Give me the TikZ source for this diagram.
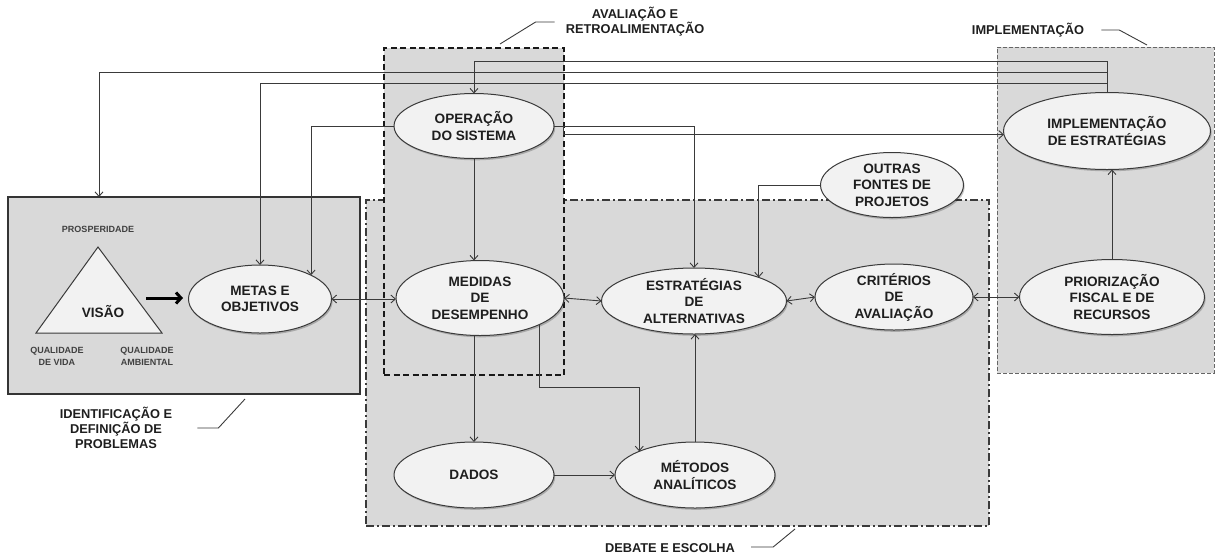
\documentclass[tikz,border=0pt]{standalone}
\usepackage{fontspec}
\setmainfont{Liberation Sans}
\usetikzlibrary{arrows.meta,shapes.geometric,shadows,calc}

\definecolor{regionfill}{HTML}{D9D9D9}
\definecolor{bubblefill}{HTML}{F2F2F2}
\definecolor{inkline}{HTML}{3A3A3A}
\definecolor{inktext}{HTML}{1E1E1E}

\tikzset{
  region/.style={rectangle, fill=regionfill, inner sep=0pt, outer sep=0pt},
  edgesolid/.style={draw=inkline!90!black, line width=1.6pt},
  edgedash/.style={draw=black!90, line width=1.4pt, dash pattern=on 6pt off 3.5pt},
  edgedashdot/.style={draw=inkline, line width=1.4pt, dash pattern=on 8pt off 3pt on 2pt off 3pt},
  edgefine/.style={draw=black!60, line width=1pt, dash pattern=on 4pt off 2pt},
  bub/.style={ellipse, draw=inkline, line width=1pt, fill=bubblefill, inner sep=0pt, outer sep=0pt,
    drop shadow={shadow xshift=1.2pt, shadow yshift=-1.8pt, fill=black, opacity=0.22}},
  bubtext/.style={font=\bfseries\fontsize{13.6}{16.6}\selectfont, text=inktext, align=center, inner sep=0pt},
  regtext/.style={font=\bfseries\fontsize{12.8}{15}\selectfont, text=inktext, align=center, inner sep=0pt},
  smalltext/.style={font=\bfseries\fontsize{9}{12.3}\selectfont, text=inktext!85, align=center, inner sep=0pt},
  arr/.style={draw=inkline, line width=0.9pt, -{Straight Barb[length=4.5pt,width=8pt]}},
  darr/.style={draw=inkline, line width=0.9pt, {Straight Barb[length=4.5pt,width=8pt]}-{Straight Barb[length=4.5pt,width=8pt]}},
  leader/.style={draw=inkline, line width=0.9pt},
}

% ellipse with its caption: name, x, y, width, height, text
\newcommand\bubble[6]{%
  \node[bub, minimum width=#4pt, minimum height=#5pt] (#1) at (#2,#3) {};
  \node[bubtext] (#1-t) at (#1.center) {#6};}

\begin{document}
\begin{tikzpicture}[x=1pt,y=-1pt]
\useasboundingbox (0,0) rectangle (1217,558);

% phase regions
\node[region, edgedashdot, minimum width=623pt, minimum height=326pt] (debatebox) at (677.5,363) {};
\node[region, edgedash, minimum width=180pt, minimum height=327pt] (avalbox) at (474,211.5) {};
\node[region, edgesolid, minimum width=352pt, minimum height=197pt] (idbox) at (184,295.5) {};
\node[region, edgefine, minimum width=217pt, minimum height=326pt] (implbox) at (1105.5,210) {};

% region captions and their leaders
\node[regtext] (avallab) at (635,22) {AVALIAÇÃO E\\RETROALIMENTAÇÃO};
\coordinate (avalend) at (500,44);
\draw[leader] ([xshift=-11pt]avallab.west) -- ++(-19,0) -- (avalend);

\node[regtext] (impllab) at (1028,30) {IMPLEMENTAÇÃO};
\coordinate (implend) at (1147,45);
\draw[leader] ([xshift=17pt]impllab.east) -- ++(18,0) -- (implend);

\node[regtext] (idlab) at (116,428) {IDENTIFICAÇÃO E\\DEFINIÇÃO DE\\PROBLEMAS};
\coordinate (idend) at (245,399);
\draw[leader] ([xshift=25pt]idlab.east) -- ++(21,0) -- (idend);

\node[regtext] (deblab) at (670,548) {DEBATE E ESCOLHA};
\coordinate (debend) at (795,529);
\draw[leader] ([xshift=16pt]deblab.east |- 0,547) -- ++(22,0) -- (debend);

% vision triangle
\draw[draw=inkline, line width=1pt, fill=bubblefill] (98,247) -- (162,333) -- (36,333) -- cycle;
\node[bubtext] (visao) at (103,312) {VISÃO};
\node[smalltext] (prosp) at (98,229) {PROSPERIDADE};
\node[smalltext] (qvida) at (57,356) {QUALIDADE\\DE VIDA};
\node[smalltext] (qamb) at (147,356) {QUALIDADE\\AMBIENTAL};
\coordinate (vtail) at (146,298);
\coordinate (vtip) at (183,298);
\draw[line width=3pt, black, -{Straight Barb[length=5pt,width=11pt]}] (vtail) -- (vtip);

% process ellipses
\bubble{oper}{474}{126}{160}{65}{OPERAÇÃO\\DO SISTEMA}
\bubble{meds}{480}{298}{168}{75}{MEDIDAS\\DE\\DESEMPENHO}
\bubble{metas}{260}{299}{143}{68}{METAS E\\OBJETIVOS}
\bubble{strat}{694}{301}{185}{66}{ESTRATÉGIAS\\DE\\ALTERNATIVAS}
\bubble{crit}{894}{297}{158}{66}{CRITÉRIOS\\DE\\AVALIAÇÃO}
\bubble{prio}{1112}{297}{185}{75}{PRIORIZAÇÃO\\FISCAL E DE\\RECURSOS}
\bubble{impl}{1107}{131}{207}{77}{IMPLEMENTAÇÃO\\DE ESTRATÉGIAS}
\bubble{outras}{892}{185}{143}{65}{OUTRAS\\FONTES DE\\PROJETOS}
\bubble{dados}{474}{475}{160}{66}{DADOS}
\bubble{metodos}{695}{475}{160}{66}{MÉTODOS\\ANALÍTICOS}

% feedback lines from implementation
\draw[arr] (impl.north) -- (impl.north |- 0,61) -| (oper.north);
\draw[arr] (impl.north |- 0,72) -| (idbox.north -| 99,0);
\draw[arr] (impl.north |- 0,83) -| (metas.north);

% system operation
\draw[arr] (oper.west) -| (metas.25.6);
\draw[arr] (oper.east) -| (strat.north);
\draw[arr] ($(oper.east)+(9,0)$) |- (impl.182.8);
\draw[arr] (oper.south) -- (oper.south |- meds.north);

% main chain
\draw[darr] (metas.east) -- (metas.east -| meds.west);
\draw[darr] (meds.east) -- (strat.west);
\draw[darr] (strat.east) -- (crit.west);
\draw[darr] (crit.east) -- (prio.west);
\draw[arr] (prio.north) -- (prio.north |- impl.south);
\draw[arr] (outras.west) -| (strat.20.3);

% analysis branch
\draw[arr] (meds.south -| dados.north) -- (dados.north);
\draw[arr] (meds.336) -- (meds.336 |- 0,387) -| (metodos.157);
\draw[arr] (dados.east) -- (metodos.west);
\draw[arr] (metodos.north) -- (metodos.north |- strat.south);
\end{tikzpicture}
\end{document}
